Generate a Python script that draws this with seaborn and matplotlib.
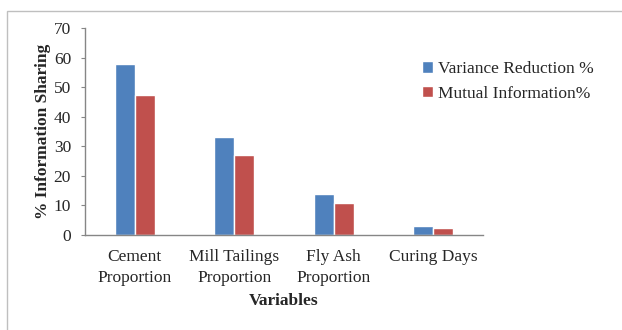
import matplotlib
matplotlib.use("Agg")
import matplotlib.pyplot as plt
import seaborn as sns
import pandas as pd
from matplotlib.patches import Rectangle

categories = ["Cement\nProportion", "Mill Tailings\nProportion", "Fly Ash\nProportion", "Curing Days"]
variance_reduction = [57.9, 33.1, 13.8, 3.0]
mutual_information = [47.4, 27.0, 10.9, 2.2]
series_names = ["Variance Reduction %", "Mutual Information%"]
yticks = [0, 10, 20, 30, 40, 50, 60, 70]

df = pd.DataFrame({
    "Variable": categories * 2,
    "Value": variance_reduction + mutual_information,
    "Series": [series_names[0]] * len(categories) + [series_names[1]] * len(categories),
})

sns.set_style("white")
plt.rcParams['font.family'] = ['Liberation Serif', 'DejaVu Serif']

FS = 12.5
fig = plt.figure(figsize=(6.22, 3.30), dpi=100)
ax = fig.add_axes([85/622, 1 - 234.7/330, (483-85)/622, (234.7-28.2)/330])

# outer chart frame (clipped by figure edge on right/bottom)
fig.patches.append(Rectangle((7/622, -0.1), 1.2, 0.1 + (330-10.5)/330,
                             transform=fig.transFigure, fill=False,
                             edgecolor="#BFBFBF", linewidth=1.0))

sns.barplot(data=df, x="Variable", y="Value", hue="Series",
            palette=["#4F81BD", "#C0504D"], width=0.4, saturation=1,
            ax=ax, legend=True)

ax.set_ylim(0, 70)
ax.set_yticks(yticks)
ax.set_xlim(-0.5, len(categories) - 0.5)
for s in ["top", "right"]:
    ax.spines[s].set_visible(False)
for s in ["left", "bottom"]:
    ax.spines[s].set_color("#868686")
    ax.spines[s].set_linewidth(1.0)
ax.tick_params(axis="y", length=3, color="#868686", labelsize=FS, pad=7, left=True)
ax.tick_params(axis="x", length=0, labelsize=FS, pad=10)
for lbl in ax.get_xticklabels():
    lbl.set_linespacing(1.45)
ax.set_ylabel("% Information Sharing", fontsize=FS, fontweight="bold", labelpad=2)
ax.set_xlabel("Variables", fontsize=FS, fontweight="bold", labelpad=5)

handles, labels = ax.get_legend_handles_labels()
ax.legend(handles, labels, loc="upper left", bbox_to_anchor=(422/622, 1 - 61/330),
          bbox_transform=fig.transFigure, frameon=False, fontsize=FS,
          handlelength=0.65, handleheight=0.65, handletextpad=0.25, labelspacing=0.5,
          borderaxespad=0, borderpad=0)

fig.savefig("out.png", dpi=100)
